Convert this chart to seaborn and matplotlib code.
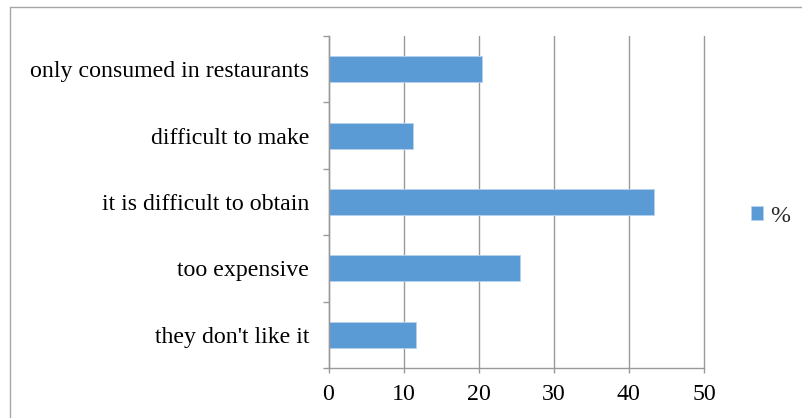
import matplotlib
matplotlib.use("Agg")
import matplotlib.pyplot as plt
from matplotlib.lines import Line2D
from matplotlib.ticker import FixedLocator
import seaborn as sns
import pandas as pd

# Reasons given, top to bottom
reasons = [
    "only consumed in restaurants",
    "difficult to make",
    "it is difficult to obtain",
    "too expensive",
    "they don't like it",
]
percent = [20.4, 11.3, 43.3, 25.5, 11.7]
series_name = "%"
x_ticks = [0, 10, 20, 30, 40, 50]

df = pd.DataFrame({"reason": reasons, "value": percent})

sns.set_theme(style="white")
plt.rcParams["font.family"] = ["Liberation Serif", "DejaVu Serif"]

W, H, DPI = 802, 418, 100
fig = plt.figure(figsize=(W / DPI, H / DPI), dpi=DPI)
fig.patch.set_facecolor("white")

left, right, top, bottom = 328.5, 704, 36, 368
ax = fig.add_axes([left / W, 1 - bottom / H, (right - left) / W, (bottom - top) / H])

bar_color = "#5b9bd5"
sns.barplot(data=df, x="value", y="reason", color=bar_color, width=0.39,
            saturation=1, label=series_name, edgecolor="#b7d1ee", linewidth=0.6,
            ax=ax)

grid_color = "#999999"
label_size = 17.2
ax.set_xlim(0, 50)
ax.set_ylim(len(reasons) - 0.5, -0.5)
ax.set_xticks(x_ticks)
ax.set_xticklabels([str(t) for t in x_ticks])
ax.xaxis.grid(True, color=grid_color, linewidth=1.0)
for gl in ax.xaxis.get_gridlines():
    gl.set_clip_on(False)
ax.yaxis.grid(False)
ax.set_axisbelow(True)
ax.set_xlabel("")
ax.set_ylabel("")

for side in ("top", "right"):
    ax.spines[side].set_visible(False)
for side in ("left", "bottom"):
    ax.spines[side].set_visible(True)
    ax.spines[side].set_color(grid_color)
    ax.spines[side].set_linewidth(1.0)

# category boundaries carry the y tick marks
ax.yaxis.set_minor_locator(FixedLocator([i - 0.5 for i in range(len(reasons) + 1)]))
ax.tick_params(axis="y", which="minor", left=True, length=4.3, width=1.0,
               color=grid_color, direction="out")
ax.tick_params(axis="y", which="major", left=True, length=0, pad=14,
               labelsize=label_size, labelcolor="black")
ax.tick_params(axis="x", which="major", bottom=True, length=3.6, width=1.0,
               color=grid_color, direction="out", pad=8, labelsize=label_size,
               labelcolor="black")

if ax.legend_:
    ax.legend_.remove()
handles, labels = ax.get_legend_handles_labels()
fig.legend(handles[:1], labels[:1], loc="center left",
           bbox_to_anchor=(751 / W, 1 - 216 / H), frameon=False,
           fontsize=label_size, handlelength=0.5, handleheight=0.5,
           handletextpad=0.3, borderpad=0, borderaxespad=0)

# outer chart frame
frame_color = "#a6a6a6"
fig.add_artist(Line2D([10 / W, 1.0], [1 - 7 / H, 1 - 7 / H],
                      transform=fig.transFigure, color=frame_color, linewidth=1.0))
fig.add_artist(Line2D([10 / W, 10 / W], [0.0, 1 - 7 / H],
                      transform=fig.transFigure, color=frame_color, linewidth=1.0))

fig.savefig("out.png", dpi=DPI, facecolor="white")
